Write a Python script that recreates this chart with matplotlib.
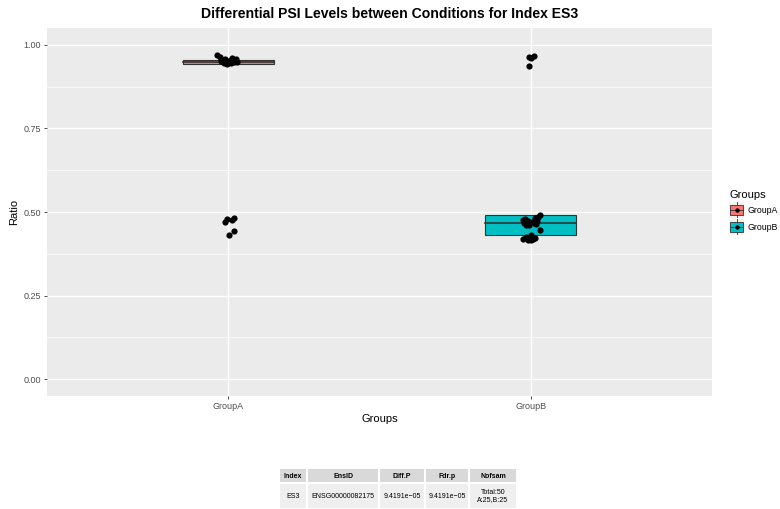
import matplotlib
matplotlib.use("Agg")
import matplotlib.pyplot as plt
from matplotlib.patches import Rectangle
import numpy as np

plt.rcParams['font.family'] = ['Liberation Sans', 'DejaVu Sans']

groups = ["GroupA", "GroupB"]
colors = ["#F8766D", "#00BFC4"]

# box stats: lower hinge, median, upper hinge
box_lo = [0.942, 0.432]
box_med = [0.948, 0.467]
box_hi = [0.955, 0.491]

# points (values) and jitter offsets
a_vals = [0.970, 0.963, 0.958, 0.955, 0.953, 0.951, 0.950, 0.949, 0.948, 0.947,
          0.946, 0.945, 0.944, 0.943, 0.956, 0.960, 0.952, 0.948, 0.946,
          0.482, 0.478, 0.476, 0.470, 0.443, 0.431]
a_jit = [-0.036, -0.028, -0.012, 0.008, 0.014, -0.020, -0.002, 0.004, -0.010, 0.018,
         -0.016, 0.010, 0.000, -0.006, 0.024, 0.012, -0.024, 0.030, -0.008,
         0.020, -0.004, 0.012, -0.010, 0.018, 0.002]
b_vals = [0.965, 0.962, 0.960, 0.937,
          0.491, 0.485, 0.481, 0.478, 0.476, 0.474, 0.472, 0.470, 0.468,
          0.466, 0.464, 0.462, 0.460, 0.445, 0.430, 0.425, 0.422, 0.420,
          0.418, 0.416, 0.415]
b_jit = [0.010, -0.006, 0.002, -0.006,
         0.030, 0.026, 0.014, -0.018, -0.026, 0.022, -0.010, 0.004, -0.022,
         0.010, 0.018, -0.014, -0.004, 0.030, 0.000, -0.016, 0.016, -0.024,
         0.008, -0.008, 0.002]

table_cols = ["Index", "EnsID", "Diff.P", "Fdr.p", "Nofsam"]
table_row = ["ES3", "ENSG00000082175", "9.4191e\u221205", "9.4191e\u221205", "Total:50\nA:25,B:25"]

W, H = 780, 509
fig = plt.figure(figsize=(W / 100, H / 100), dpi=100)
ax = fig.add_axes([47 / W, (H - 396) / H, (712 - 47) / W, (396 - 28) / H])
ax.set_facecolor("#EBEBEB")
ax.set_xlim(0.4, 2.6)
ax.set_ylim(-0.05, 1.05)
for s in ax.spines.values():
    s.set_visible(False)

for y in [0.125, 0.375, 0.625, 0.875]:
    ax.axhline(y, color="white", lw=0.5, zorder=0)
for y in [0, 0.25, 0.5, 0.75, 1.0]:
    ax.axhline(y, color="white", lw=1.0, zorder=0)
for x in [1, 2]:
    ax.axvline(x, color="white", lw=1.0, zorder=0)

bw = 0.3
for i in range(2):
    x = i + 1
    ax.add_patch(Rectangle((x - bw / 2, box_lo[i]), bw, box_hi[i] - box_lo[i],
                           facecolor=colors[i], edgecolor="#333333", lw=0.8, zorder=2))
    ax.plot([x - bw / 2, x + bw / 2], [box_med[i], box_med[i]], color="#333333", lw=1.2, zorder=3)

ax.scatter(1 + np.array(a_jit), a_vals, s=20, color="black", zorder=4, linewidths=0)
ax.scatter(2 + np.array(b_jit), b_vals, s=20, color="black", zorder=4, linewidths=0)

ax.set_xticks([1, 2])
ax.set_xticklabels(groups)
ax.set_yticks([0, 0.25, 0.5, 0.75, 1.0])
ax.set_yticklabels(["0.00", "0.25", "0.50", "0.75", "1.00"])
ax.tick_params(axis="both", labelsize=6.5, length=2.5, width=0.6, labelcolor="#4D4D4D", color="#333333", pad=2)
ax.set_xlabel("Groups", fontsize=8, labelpad=2)
ax.set_ylabel("Ratio", fontsize=8, labelpad=3)
fig.text(0.5, 1 - 14 / H, "Differential PSI Levels between Conditions for Index ES3",
         fontsize=10.1, fontweight="bold", ha="center", va="center")

# legend
fig.text(729 / W, 1 - 195 / H, "Groups", fontsize=8, va="center", ha="left")
for i, g in enumerate(groups):
    yc = [210, 227][i]
    bax = fig.add_axes([729 / W, 1 - (yc + 8) / H, 15 / W, 16 / H])
    bax.set_xlim(0, 1); bax.set_ylim(0, 1); bax.axis("off")
    bax.add_patch(Rectangle((0, 0), 1, 1, facecolor="#F2F2F2", edgecolor="none"))
    bax.plot([0.5, 0.5], [0.02, 0.2], color="#333333", lw=0.6)
    bax.plot([0.5, 0.5], [0.8, 0.98], color="#333333", lw=0.6)
    bax.add_patch(Rectangle((0.08, 0.2), 0.84, 0.6, facecolor=colors[i], edgecolor="#333333", lw=0.6))
    bax.plot([0.08, 0.92], [0.5, 0.5], color="#333333", lw=0.6)
    bax.scatter([0.5], [0.5], s=10, color="black", zorder=5, linewidths=0)
    fig.text(747 / W, 1 - yc / H, g, fontsize=6.3, va="center", ha="left")

# table
col_edges = [279, 307, 379, 425, 469, 517]
hdr_top, hdr_bot, row_bot = 469, 483, 508
tax = fig.add_axes([0, 0, 1, 1], facecolor="none")
tax.set_xlim(0, W); tax.set_ylim(H, 0); tax.axis("off")
for j in range(5):
    x0, x1 = col_edges[j] + 1, col_edges[j + 1] - 1
    tax.add_patch(Rectangle((x0, hdr_top), x1 - x0, hdr_bot - hdr_top - 1, facecolor="#D9D9D9", edgecolor="none"))
    tax.add_patch(Rectangle((x0, hdr_bot + 1), x1 - x0, row_bot - hdr_bot - 1, facecolor="#EFEFEF", edgecolor="none"))
    xc = (col_edges[j] + col_edges[j + 1]) / 2
    tax.text(xc, (hdr_top + hdr_bot) / 2, table_cols[j], fontsize=5, fontweight="bold",
             ha="center", va="center")
    tax.text(xc, (hdr_bot + row_bot) / 2 + 0.5, table_row[j], fontsize=5,
             ha="center", va="center", linespacing=1.2)

fig.savefig("out.png", dpi=100)
